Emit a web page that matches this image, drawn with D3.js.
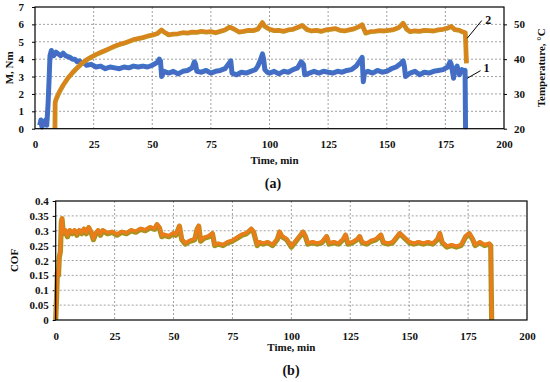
<!DOCTYPE html>
<html><head><meta charset="utf-8">
<script src="https://cdn.jsdelivr.net/npm/d3@7"></script>
<style>
body{margin:0;background:#fff;}
svg text{font-family:"Liberation Serif","Times New Roman",serif;font-weight:bold;fill:#111;}
</style></head>
<body><svg id="c" width="550" height="382"></svg>
<script>
// ---------- data ----------
const xTicks = [0,25,50,75,100,125,150,175,200];
const torqueTicks = [0,1,2,3,4,5,6,7];
const tempTicks = [20,30,40,50];
const cofTicks = [0,0.05,0.1,0.15,0.2,0.25,0.3,0.35,0.4];
const cofTickLabels = ["0","0.05","0.1","0.15","0.2","0.25","0.3","0.35","0.4"];

const torqueTime = [2,2.5,3,3.5,4,4.5,5,5.3,5.6,6,6.4,7,8,9,10,11,12,13,14,15,16,17,18,19,20,21,22,24,26,28,30,32,34,36,38,40,42,44,46,48,50,52,53,53.5,54,55,57,59,61,63,65,67,68,68.5,69,71,73,75,77,79,81,83,83.5,84,86,88,90,92,94,95,96,97,97.5,98,99,100,102,104,106,108,110,112,113.5,114.5,115,117,119,121,123,125,127,129,131,133,135,137,138.5,139.5,140,140.5,142,144,146,148,150,152,154,156,157,157.5,158,160,162,164,166,168,170,172,174,176,177,177.5,178,178.5,179,180,181,182,183,183.4,183.6];
const torqueM = [0.2,0.5,0.1,0.4,0.3,0.5,0.2,0.8,1.5,2.8,4.2,4.5,4.2,4.4,4.3,4.2,4.35,4.2,4.15,4.1,4.0,4.0,3.85,3.9,3.75,3.8,3.65,3.7,3.55,3.6,3.45,3.55,3.5,3.45,3.55,3.5,3.6,3.55,3.6,3.55,3.65,3.8,4.0,3.9,3.0,3.3,3.2,3.3,3.15,3.3,3.35,3.5,3.85,3.7,3.3,3.25,3.35,3.2,3.3,3.35,3.45,3.8,3.9,3.2,3.1,3.25,3.2,3.3,3.4,3.6,3.9,4.3,4.0,3.4,3.25,3.2,3.3,3.15,3.3,3.25,3.4,3.5,3.85,3.7,3.1,3.2,3.3,3.2,3.3,3.25,3.2,3.3,3.25,3.35,3.4,3.6,3.9,4.1,2.7,3.2,3.3,3.2,3.35,3.25,3.3,3.45,3.55,3.75,3.9,3.6,3.0,3.2,3.3,3.1,3.25,3.2,3.3,3.35,3.4,3.55,3.85,3.7,3.3,2.9,3.4,3.6,3.1,3.4,3.3,3.35,0];

const tempTime = [8.5,8.6,9,10,11,12,13,14,15,16,17,18,19,20,22,24,26,28,30,32,34,36,38,40,42,44,46,48,50,52,54,55,57,59,61,63,65,67,69,71,73,75,77,79,81,83,85,87,89,91,93,95,97,98,100,102,104,106,108,110,112,114,116,118,120,122,124,126,128,130,132,134,136,138,139.5,141,143,145,147,149,151,153,155,157,158.5,160,162,164,166,168,170,172,174,176,177.5,179,181,182.5,183.5,184];
const tempC = [20,27.5,28.5,30,31.3,32.5,33.5,34.5,35.3,36.1,36.8,37.5,38.1,38.8,39.8,40.6,41.3,41.9,42.5,43.1,43.7,44.2,44.6,45.1,45.6,45.9,46.2,46.6,46.9,47.3,48.4,47.8,47.0,47.2,47.3,47.6,47.5,47.8,47.7,48.0,47.8,47.9,47.6,48.0,48.4,49.2,48.6,47.8,48.0,48.3,48.2,48.6,50.5,49.4,48.6,48.2,48.3,48.0,48.4,48.6,49.1,49.7,48.5,48.1,48.3,48.0,48.4,48.6,48.8,48.3,48.1,48.4,48.7,49.3,49.9,47.5,47.9,48.0,48.2,48.1,48.3,48.5,49.0,50.3,48.6,47.9,48.1,48.0,48.3,48.2,48.1,48.4,48.6,48.9,49.4,48.5,48.3,47.8,47.6,38.8];

const cofTime = [0,0.4,0.7,1.2,1.5,2,2.4,2.7,3,3.5,4,5,6,7,8,9,10,11,12,13,14,15,16,17,18,19,20,22,24,26,28,30,32,34,36,38,40,42,43,44,45,46,48,50,51,52.5,53.5,55,57,59,60,60.7,61.5,63,65,66.5,67.5,69,71,73,75,77,79,81,83,84,85.5,86.5,88,90,92,94,95,96,98,100,102,104,105,106,107,109,111,113,115,116,118,120,122,123,124,126,128,129,130,132,134,136,138,139,141,143,145,146,148,150,152,154,156,158,160,162,163,164,166,168,170,172,173,174,175.5,177,178,180,182,184,184.6,185];
const cofValue = [0,0.08,0.16,0.15,0.21,0.23,0.33,0.34,0.31,0.29,0.3,0.28,0.3,0.29,0.3,0.285,0.3,0.29,0.305,0.29,0.31,0.295,0.27,0.29,0.3,0.285,0.3,0.29,0.295,0.285,0.295,0.29,0.3,0.295,0.305,0.3,0.31,0.305,0.32,0.31,0.28,0.285,0.28,0.29,0.285,0.315,0.27,0.255,0.265,0.27,0.305,0.315,0.265,0.275,0.28,0.29,0.25,0.255,0.25,0.26,0.265,0.275,0.285,0.29,0.305,0.295,0.25,0.26,0.255,0.26,0.25,0.27,0.295,0.28,0.27,0.245,0.265,0.285,0.295,0.28,0.255,0.26,0.255,0.26,0.28,0.255,0.26,0.255,0.27,0.285,0.255,0.26,0.27,0.28,0.26,0.255,0.265,0.27,0.285,0.26,0.255,0.26,0.28,0.29,0.275,0.26,0.255,0.26,0.255,0.26,0.255,0.27,0.29,0.26,0.245,0.25,0.245,0.25,0.265,0.28,0.29,0.27,0.25,0.26,0.25,0.255,0.25,0];

// ---------- drawing ----------
const svg = d3.select("#c");
const fs = 11;
const FONT = "'Liberation Serif', serif";

function grid(g, x, y, xt, yt, x0, x1, y0, y1){
  g.selectAll(".gx").data(xt.filter(d=>d>xt[0] && d<xt[xt.length-1])).join("line")
    .attr("x1",d=>x(d)).attr("x2",d=>x(d)).attr("y1",y0).attr("y2",y1)
    .attr("stroke","#8a8a8a").attr("stroke-width",0.8).attr("stroke-dasharray","2,2");
  g.selectAll(".gy").data(yt.filter(d=>d>yt[0] && d<yt[yt.length-1])).join("line")
    .attr("x1",x0).attr("x2",x1).attr("y1",d=>y(d)).attr("y2",d=>y(d))
    .attr("stroke","#8a8a8a").attr("stroke-width",0.8).attr("stroke-dasharray","2,2");
}
function styleAxis(g){
  g.attr("font-family",FONT);
  g.select(".domain").remove();
  g.selectAll("line").attr("stroke","#000");
  g.selectAll("text").attr("font-size",fs).style("font-family",FONT).style("font-weight","bold").attr("fill","#111");
}
const fmtInt = d3.format("d");

// ===== Chart (a) =====
const A = {l:35, r:504, t:7, b:128.7};
const xa = d3.scaleLinear().domain([0,200]).range([A.l,A.r]);
const ya = d3.scaleLinear().domain([0,7]).range([A.b,A.t]);
const ta = d3.scaleLinear().domain([20,55]).range([A.b,A.t]);
const ga = svg.append("g");
grid(ga, xa, ya, xTicks, torqueTicks, A.l, A.r, A.t, A.b);

ga.append("g").attr("transform",`translate(0,${A.b})`)
  .call(d3.axisBottom(xa).tickValues(xTicks).tickFormat(fmtInt).tickSize(0).tickPadding(12)).call(styleAxis);
ga.append("g").attr("transform",`translate(${A.l},0)`)
  .call(d3.axisLeft(ya).tickValues(torqueTicks).tickFormat(fmtInt).tickSize(3).tickPadding(8)).call(styleAxis);
ga.append("g").attr("transform",`translate(${A.r},0)`)
  .call(d3.axisRight(ta).tickValues(tempTicks).tickFormat(fmtInt).tickSize(3).tickPadding(7)).call(styleAxis);

const torqueData = torqueTime.map((t,i)=>[t,torqueM[i]]);
const tempData = tempTime.map((t,i)=>[t,tempC[i]]);
const la = d3.line().x(d=>xa(d[0])).y(d=>ya(d[1]));
const lt = d3.line().x(d=>xa(d[0])).y(d=>ta(d[1]));
ga.append("path").datum(torqueData).attr("d", la)
  .attr("fill","none").attr("stroke","#3d72c6").attr("stroke-width",5).attr("stroke-linejoin","round");
ga.append("path").datum(torqueData).attr("d", la).attr("transform","translate(0,1)")
  .attr("fill","none").attr("stroke","#5f5cc0").attr("stroke-width",1.4).attr("stroke-linejoin","round").attr("opacity",0.55);
ga.append("path").datum(tempData).attr("d", lt)
  .attr("fill","none").attr("stroke","#c98e1c").attr("stroke-width",4.8).attr("stroke-linejoin","round");
ga.append("path").datum(tempData).attr("d", lt).attr("transform","translate(0,-0.6)")
  .attr("fill","none").attr("stroke","#e27e1c").attr("stroke-width",1.8).attr("stroke-linejoin","round");

ga.append("rect").attr("x",A.l).attr("y",A.t).attr("width",A.r-A.l).attr("height",A.b-A.t)
  .attr("fill","none").attr("stroke","#000").attr("stroke-width",1.2);

// leader annotations
ga.append("line").attr("x1",xa(184.3)).attr("y1",ta(46.0)).attr("x2",xa(190.5)).attr("y2",ta(51.1)).attr("stroke","#000").attr("stroke-width",1);
ga.append("text").attr("x",xa(193.3)).attr("y",ta(51.3)).attr("text-anchor","middle").attr("dy","0.35em").attr("font-size",12).text("2");
ga.append("line").attr("x1",xa(184.3)).attr("y1",ta(34.5)).attr("x2",xa(190)).attr("y2",ta(36.7)).attr("stroke","#000").attr("stroke-width",1);
ga.append("text").attr("x",xa(192.5)).attr("y",ta(37.5)).attr("text-anchor","middle").attr("dy","0.35em").attr("font-size",12).text("1");

svg.append("text").attr("x",(A.l+A.r)/2+5).attr("y",160).attr("text-anchor","middle").attr("dy","0.35em").attr("font-size",fs).text("Time, min");
svg.append("text").attr("transform",`translate(9,${(A.t+A.b)/2}) rotate(-90)`).attr("text-anchor","middle").attr("dy","0.35em").attr("font-size",fs).text("M, Nm");
svg.append("text").attr("transform",`translate(541,${(A.t+A.b)/2}) rotate(-90)`).attr("text-anchor","middle").attr("dy","0.35em").attr("font-size",fs).text("Temperature, °C");
svg.append("text").attr("x",273).attr("y",183).attr("text-anchor","middle").attr("dy","0.35em").attr("font-size",14).text("(a)");

// ===== Chart (b) =====
const B = {l:55.7, r:527, t:201, b:320};
const xb = d3.scaleLinear().domain([0,200]).range([B.l,B.r]);
const yb = d3.scaleLinear().domain([0,0.4]).range([B.b,B.t]);
const gb = svg.append("g");
grid(gb, xb, yb, xTicks, cofTicks, B.l, B.r, B.t, B.b);
gb.append("g").attr("transform",`translate(0,${B.b})`)
  .call(d3.axisBottom(xb).tickValues(xTicks).tickFormat(fmtInt).tickSize(0).tickPadding(12)).call(styleAxis);
gb.append("g").attr("transform",`translate(${B.l},0)`)
  .call(d3.axisLeft(yb).tickValues(cofTicks).tickFormat((d,i)=>cofTickLabels[i]).tickSize(3).tickPadding(4)).call(styleAxis);

const cofData = cofTime.map((t,i)=>[t,cofValue[i]]);
const lb = d3.line().x(d=>xb(d[0])).y(d=>yb(d[1]));
gb.append("path").datum(cofData).attr("d", lb)
  .attr("fill","none").attr("stroke","#a8921e").attr("stroke-width",5.2).attr("stroke-linejoin","round");
gb.append("path").datum(cofData).attr("transform","translate(0,-1)").attr("d", lb)
  .attr("fill","none").attr("stroke","#ee7b1a").attr("stroke-width",3.2).attr("stroke-linejoin","round");

gb.append("rect").attr("x",B.l).attr("y",B.t).attr("width",B.r-B.l).attr("height",B.b-B.t)
  .attr("fill","none").attr("stroke","#000").attr("stroke-width",1.2);

svg.append("text").attr("x",(B.l+B.r)/2).attr("y",347).attr("text-anchor","middle").attr("dy","0.35em").attr("font-size",fs).text("Time, min");
svg.append("text").attr("transform",`translate(14,${(B.t+B.b)/2}) rotate(-90)`).attr("text-anchor","middle").attr("dy","0.35em").attr("font-size",fs).text("COF");
svg.append("text").attr("x",291).attr("y",370).attr("text-anchor","middle").attr("dy","0.35em").attr("font-size",14).text("(b)");
</script></body></html>
